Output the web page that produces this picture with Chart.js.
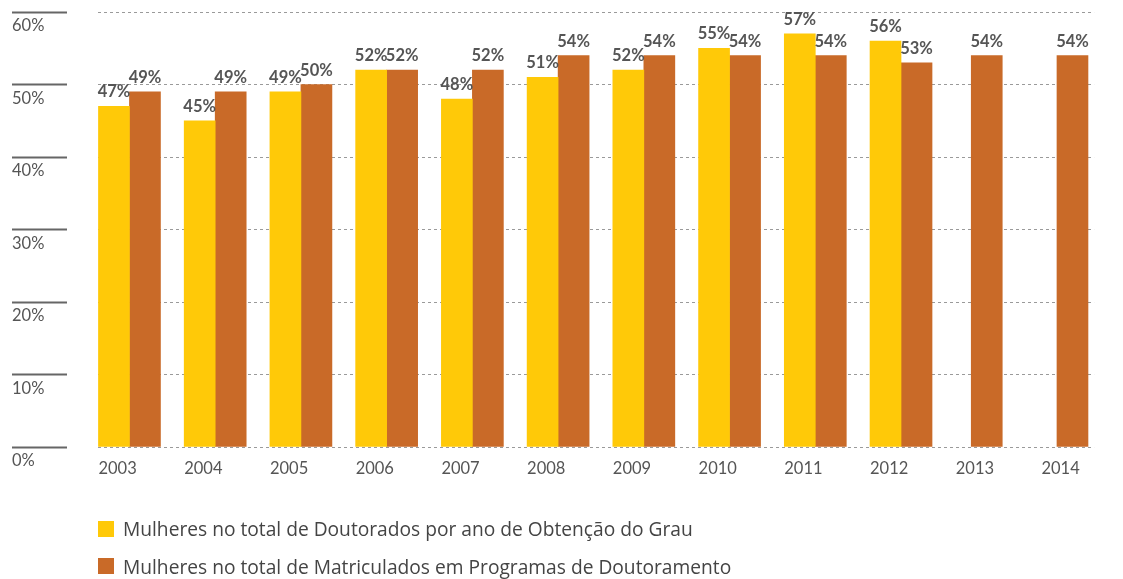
<!DOCTYPE html>
<html lang="pt">
<head>
<meta charset="utf-8">
<title>Mulheres no doutoramento, 2003–2014</title>
<script src="https://cdn.jsdelivr.net/npm/chart.js@4.4.0/dist/chart.umd.min.js"></script>
<style>
  html, body { margin: 0; padding: 0; background: #ffffff; }
  #wrap { position: relative; width: 1123px; height: 579px; overflow: hidden; }
  #chart { position: absolute; left: 0; top: 0; }
  #legend {
    position: absolute; left: 98px; top: 510px;
    font-family: "Open Sans", Roboto, sans-serif; font-size: 19.2px; color: #444444;
  }
  #legend .row { display: flex; align-items: center; height: 37.5px; white-space: nowrap; }
  #legend .box { width: 16px; height: 16px; margin-right: 9px; flex: none; }
</style>
</head>
<body>
<div id="wrap">
  <canvas id="chart" width="1123" height="579"></canvas>
  <div id="legend"></div>
</div>
<script>
// Anos e percentagens de mulheres (%)
const years = [2003, 2004, 2005, 2006, 2007, 2008, 2009, 2010, 2011, 2012, 2013, 2014];
const doutorados = [47, 45, 49, 52, 48, 51, 52, 55, 57, 56, null, null];
const matriculados = [49, 49, 50, 52, 52, 54, 54, 54, 54, 53, 54, 54];
const seriesNames = [
  'Mulheres no total de Doutorados por ano de Obtenção do Grau',
  'Mulheres no total de Matriculados em Programas de Doutoramento'
];
const yTicks = [0, 10, 20, 30, 40, 50, 60];

const YELLOW = '#FFC908';
const ORANGE = '#C96A28';
const TEXT = '#555555';

const toPoints = (vals) => years.map((y, i) => ({ x: y, y: vals[i] }));

// Percentagem por cima de cada barra
const valueLabels = {
  id: 'valueLabels',
  afterDatasetsDraw(chart) {
    const ctx = chart.ctx;
    ctx.save();
    ctx.font = 'bold 16.5px Lato, sans-serif';
    ctx.fillStyle = TEXT;
    ctx.textAlign = 'center';
    ctx.textBaseline = 'alphabetic';
    chart.data.datasets.forEach((ds, di) => {
      const meta = chart.getDatasetMeta(di);
      meta.data.forEach((bar, i) => {
        const v = ds.data[i].y;
        if (v === null || v === undefined) return;
        ctx.fillText(v + '%', bar.x, bar.y - 9);
      });
    });
    ctx.restore();
  }
};

const chart = new Chart(document.getElementById('chart'), {
  type: 'bar',
  data: {
    datasets: [
      { label: seriesNames[0], data: toPoints(doutorados), backgroundColor: YELLOW },
      { label: seriesNames[1], data: toPoints(matriculados), backgroundColor: ORANGE }
    ]
  },
  options: {
    responsive: false,
    animation: false,
    devicePixelRatio: 1,
    barThickness: 31,
    skipNull: true,
    layout: { padding: { left: 12, right: 11, top: 12, bottom: 92 } },
    plugins: {
      legend: { display: false },
      tooltip: { enabled: false }
    },
    scales: {
      x: {
        type: 'linear',
        min: 2002.633,
        max: 2014.252,
        offset: false,
        afterBuildTicks: (scale) => { scale.ticks = years.map(v => ({ value: v })); },
        afterFit: (scale) => { scale.height = 40; },
        grid: { display: false, drawTicks: false },
        border: { display: false },
        ticks: {
          autoSkip: false,
          maxRotation: 0,
          align: 'start',
          labelOffset: -31,
          padding: 12,
          color: TEXT,
          font: { family: 'Lato, sans-serif', size: 16.5 },
          callback: (v) => String(v)
        }
      },
      y: {
        min: 0,
        max: 60,
        afterBuildTicks: (scale) => { scale.ticks = yTicks.map(v => ({ value: v })); },
        afterFit: (scale) => { scale.width = 86; },
        border: { display: false, dash: [3, 3] },
        grid: {
          color: '#9a9a9a',
          lineWidth: 1,
          drawTicks: true,
          tickLength: 86,
          tickColor: '#666666',
          tickWidth: 2,
          tickBorderDash: [55, 31]
        },
        ticks: {
          crossAlign: 'far',
          padding: 0,
          labelOffset: 14,
          color: TEXT,
          font: { family: 'Lato, sans-serif', size: 16.5 },
          callback: (v) => v + '%'
        }
      }
    }
  },
  plugins: [valueLabels]
});

// Legenda em duas linhas, com as cores das séries
const legend = document.getElementById('legend');
chart.data.datasets.forEach((ds) => {
  const row = document.createElement('div');
  row.className = 'row';
  const box = document.createElement('span');
  box.className = 'box';
  box.style.background = ds.backgroundColor;
  const txt = document.createElement('span');
  txt.textContent = ds.label;
  row.appendChild(box);
  row.appendChild(txt);
  legend.appendChild(row);
});
</script>
</body>
</html>
